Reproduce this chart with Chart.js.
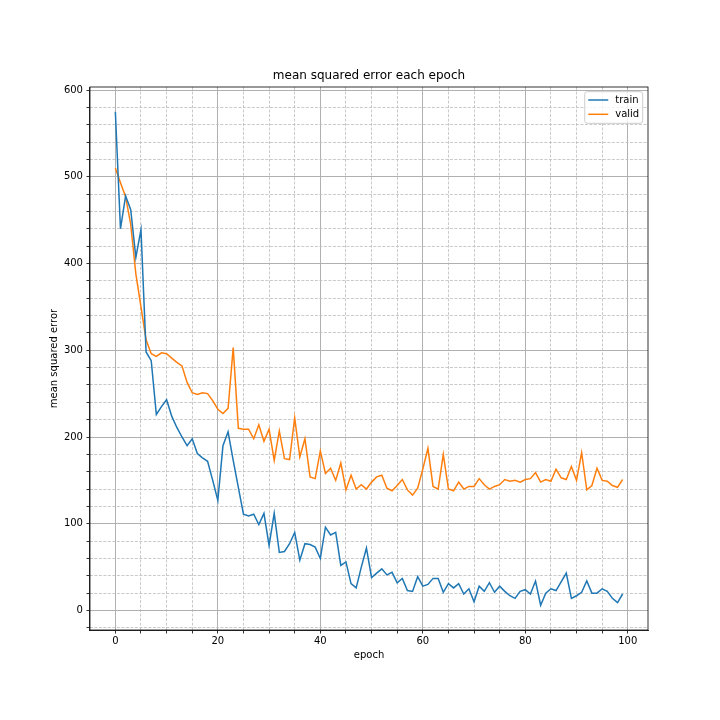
<!DOCTYPE html>
<html>
<head>
<meta charset="utf-8">
<script src="https://cdn.jsdelivr.net/npm/chart.js@4.4.1/dist/chart.umd.min.js"></script>
<style>
  body { margin: 0; background: #fff; }
  #wrap { width: 720px; height: 720px; }
</style>
</head>
<body>
<div id="wrap"><canvas id="chart" width="720" height="720"></canvas></div>
<script>
// epochs on the x axis
const epochs = [0, 1, 2, 3, 4, 5, 6, 7, 8, 9, 10, 11, 12, 13, 14, 15, 16, 17, 18, 19,
  20, 21, 22, 23, 24, 25, 26, 27, 28, 29, 30, 31, 32, 33, 34, 35, 36, 37, 38, 39,
  40, 41, 42, 43, 44, 45, 46, 47, 48, 49, 50, 51, 52, 53, 54, 55, 56, 57, 58, 59,
  60, 61, 62, 63, 64, 65, 66, 67, 68, 69, 70, 71, 72, 73, 74, 75, 76, 77, 78, 79,
  80, 81, 82, 83, 84, 85, 86, 87, 88, 89, 90, 91, 92, 93, 94, 95, 96, 97, 98, 99];

// mse
const trainMse = [575, 440, 478, 462, 407, 439, 298, 288, 226, 235,
  243, 224, 211, 200, 190, 198, 181, 176, 172, 150,
  127, 190, 206, 173, 142, 111, 109, 111, 99, 112,
  75, 112, 67, 68, 77, 90, 58, 77, 76, 73,
  60, 96, 87, 90, 52, 56, 31, 26, 50, 72,
  38, 43, 48, 41, 44, 32, 37, 23, 22, 39,
  28, 30, 37, 37, 21, 31, 26, 31, 19, 25,
  10, 28, 22, 32, 21, 28, 22, 17, 14, 22,
  24, 19, 34, 6, 20, 25, 23, 33, 43, 14,
  17, 21, 34, 20, 20, 25, 22, 14, 9, 19];

const validMse = [510, 493, 477, 445, 388, 350, 312, 296, 293, 297,
  296, 291, 286, 282, 263, 251, 249, 251, 250, 242,
  232, 227, 233, 303, 210, 209, 209, 198, 214, 195,
  209, 173, 207, 175, 174, 222, 177, 198, 154, 152,
  184, 158, 164, 150, 170, 139, 156, 140, 145, 140,
  148, 154, 156, 141, 138, 144, 151, 139, 133, 141,
  163, 187, 143, 140, 180, 140, 138, 148, 140, 143,
  143, 152, 145, 140, 143, 145, 151, 149, 150, 148,
  151, 152, 159, 148, 151, 149, 163, 153, 151, 166,
  150, 182, 139, 144, 164, 150, 149, 144, 142, 151];

const seriesNames = ['train', 'valid'];
const seriesColors = ['#1f77b4', '#ff7f0e'];

// labelled ticks, the rest are minor
const xMajorTicks = [0, 20, 40, 60, 80, 100];
const yMajorTicks = [0, 100, 200, 300, 400, 500, 600];

Chart.defaults.font.family = "'DejaVu Sans', sans-serif";
Chart.defaults.font.size = 10;
Chart.defaults.color = '#000';

function isMajor(c, majors) {
  return !!(c.tick && majors.includes(c.tick.value));
}

function gridFor(majors) {
  return {
    color: c => isMajor(c, majors) ? '#b0b0b0' : '#bdbdbd',
    lineWidth: c => isMajor(c, majors) ? 1 : 0.8,
    tickColor: '#000',
    tickWidth: 0.8,
    tickLength: 3.5,
    tickBorderDash: []
  };
}

function borderFor(majors) {
  return {
    display: true,
    color: '#000',
    width: 0.8,
    dash: c => isMajor(c, majors) ? [] : [3, 1.5]
  };
}

// top and right spines, like matplotlib
const frame = {
  id: 'frame',
  afterDatasetsDraw(chart) {
    const {ctx, chartArea: a} = chart;
    ctx.save();
    ctx.strokeStyle = '#000';
    ctx.lineWidth = 0.8;
    ctx.strokeRect(a.left, a.top, a.right - a.left, a.bottom - a.top);
    ctx.restore();
  }
};

// legend box in the upper right corner of the plot
const boxLegend = {
  id: 'boxLegend',
  afterDraw(chart) {
    const {ctx, chartArea: a} = chart;
    const sets = chart.data.datasets;
    ctx.save();
    ctx.font = "10px 'DejaVu Sans', sans-serif";
    let tw = 0;
    sets.forEach(d => { tw = Math.max(tw, ctx.measureText(d.label).width); });
    const pad = 3.5, handle = 20, gap = 7, rowH = 14.3;
    const w = pad + handle + gap + tw + pad;
    const h = 31.6;
    const x = a.right - 5.3 - w;
    const y = a.top + 4.7;
    ctx.beginPath();
    ctx.roundRect(x, y, w, h, 2.5);
    ctx.fillStyle = 'rgba(255,255,255,0.8)';
    ctx.fill();
    ctx.strokeStyle = '#cccccc';
    ctx.lineWidth = 1;
    ctx.stroke();
    sets.forEach((d, i) => {
      const cy = y + 8.3 + i * rowH;
      ctx.beginPath();
      ctx.moveTo(x + pad, cy);
      ctx.lineTo(x + pad + handle, cy);
      ctx.strokeStyle = d.borderColor;
      ctx.lineWidth = 1.5;
      ctx.stroke();
      ctx.fillStyle = '#000';
      ctx.textBaseline = 'middle';
      ctx.textAlign = 'left';
      ctx.fillText(d.label, x + pad + handle + gap, cy);
    });
    ctx.restore();
  }
};

const config = {
  type: 'line',
  data: {
    datasets: [trainMse, validMse].map((vals, i) => ({
      label: seriesNames[i],
      data: epochs.map((e, j) => ({x: e, y: vals[j]})),
      borderColor: seriesColors[i],
      backgroundColor: seriesColors[i],
      borderWidth: 1.5,
      pointRadius: 0,
      tension: 0,
      fill: false
    }))
  },
  options: {
    responsive: false,
    animation: false,
    layout: {padding: {left: 48.4, right: 72, top: 0, bottom: 58.5}},
    plugins: {
      legend: {display: false},
      tooltip: {enabled: false},
      title: {
        display: true,
        text: 'mean squared error each epoch',
        fullSize: false,
        color: '#000',
        font: {size: 12, weight: 'normal'},
        padding: {top: 68.8, bottom: 3.8}
      }
    },
    scales: {
      x: {
        type: 'linear',
        min: -4.95,
        max: 103.95,
        ticks: {
          stepSize: 5,
          includeBounds: false,
          autoSkip: false,
          maxRotation: 0,
          padding: 1.5,
          callback: v => xMajorTicks.includes(v) ? String(v) : ''
        },
        grid: gridFor(xMajorTicks),
        border: borderFor(xMajorTicks),
        title: {display: true, text: 'epoch', padding: {top: 1, bottom: 0}}
      },
      y: {
        type: 'linear',
        min: -22.5,
        max: 603.5,
        ticks: {
          stepSize: 20,
          includeBounds: false,
          autoSkip: false,
          padding: 3.5,
          callback: v => yMajorTicks.includes(v) ? String(v) : ''
        },
        grid: gridFor(yMajorTicks),
        border: borderFor(yMajorTicks),
        title: {display: true, text: 'mean squared error', padding: {top: 0, bottom: 0}}
      }
    }
  },
  plugins: [frame, boxLegend]
};

const chart = new Chart(document.getElementById('chart').getContext('2d'), config);
</script>
</body>
</html>
